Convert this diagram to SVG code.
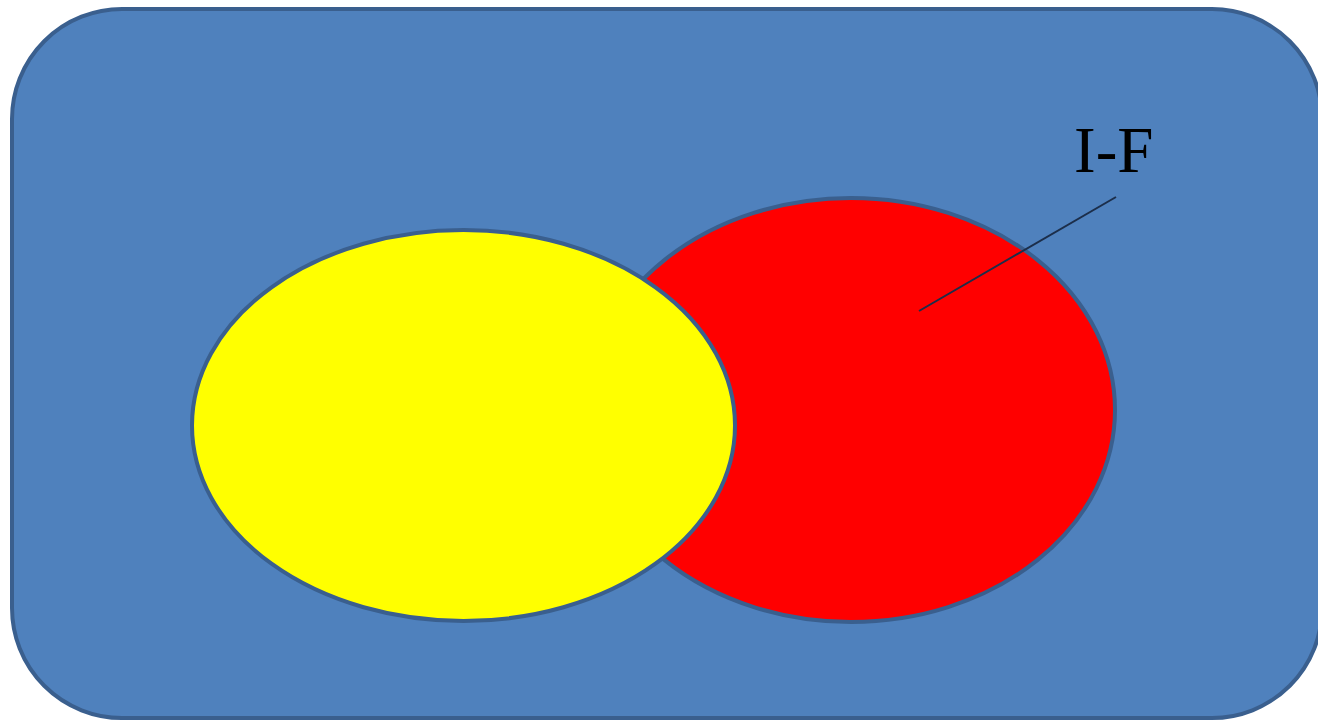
<svg xmlns="http://www.w3.org/2000/svg" width="1318" height="722" viewBox="0 0 1318 722">
<style>
.shape{stroke:#3a5f8e;stroke-width:4}
.lbl{font-family:"Liberation Serif",serif;font-size:65px;fill:#000}
</style>
<rect width="1318" height="722" fill="#fff"/>
<g id="frame"><rect class="shape" x="12" y="9" width="1310" height="709" rx="110" ry="110" fill="#4f81bd"/></g>
<g id="red"><ellipse class="shape" cx="851" cy="410" rx="264" ry="212" fill="#ff0000"/></g>
<g id="yellow"><ellipse class="shape" cx="463.5" cy="425.5" rx="271.5" ry="195.5" fill="#ffff00"/></g>
<g id="connectors"><line x1="1116" y1="197" x2="919" y2="311" stroke="#1c2e4a" stroke-width="2"/></g>
<g id="label"><text class="lbl" x="1074" y="172">I-F</text></g>
</svg>
